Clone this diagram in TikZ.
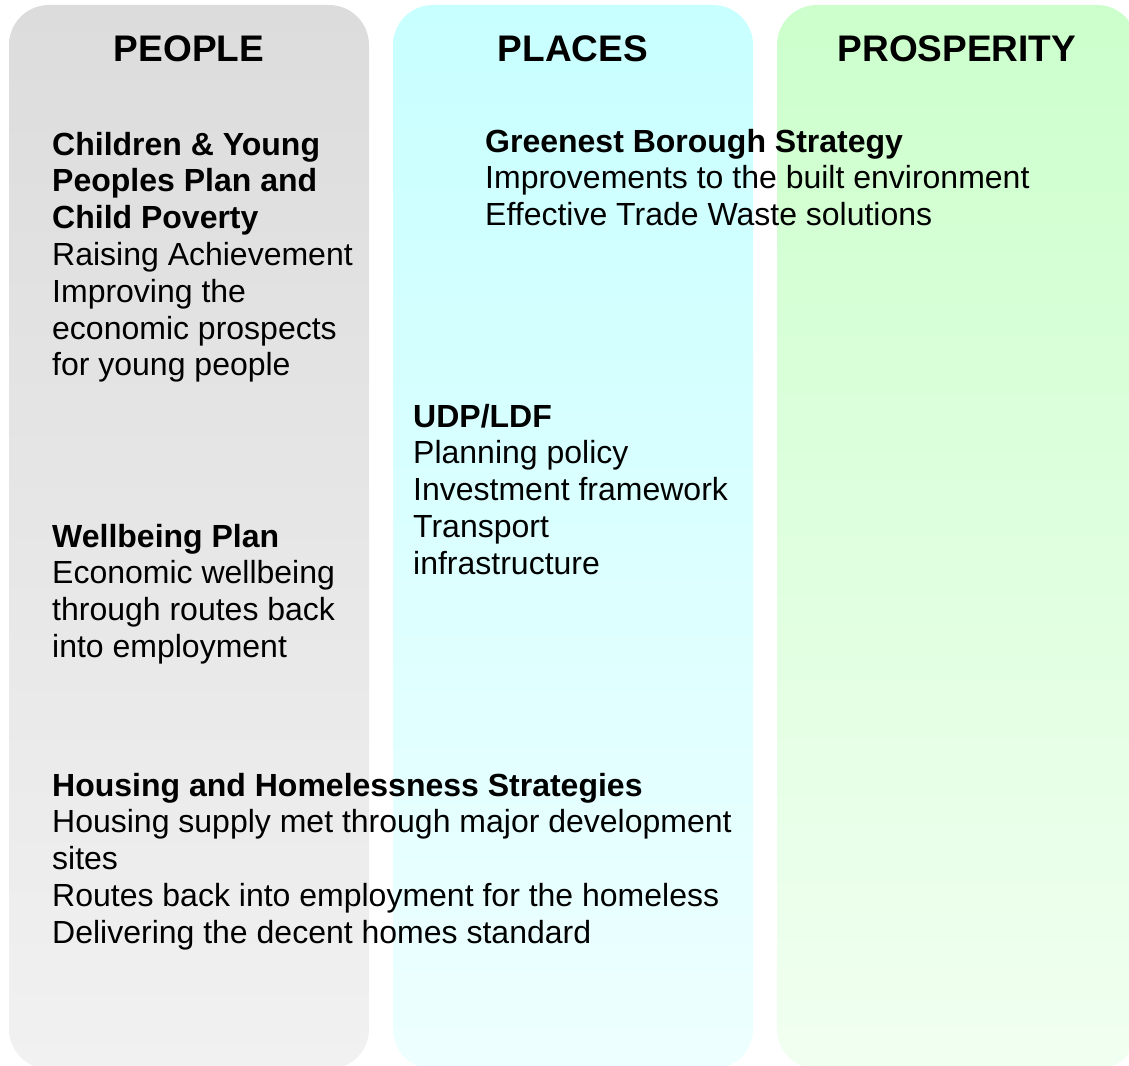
\documentclass[tikz,border=0pt]{standalone}
\usepackage{fontspec}
\setmainfont{Liberation Sans}
\usetikzlibrary{shadings}
\newcommand{\blocktext}[1]{\begin{tabular}[t]{@{}l@{}}#1\end{tabular}}
\begin{document}
\begin{tikzpicture}[x=1pt,y=-1pt,
  column/.style={rounded corners=40pt, draw=none},
  head/.style={anchor=base, inner sep=0pt, font=\fontsize{37}{42}\selectfont\bfseries},
  body/.style={anchor=base west, inner sep=0pt, font=\fontsize{32}{36.8}\selectfont},
]
\useasboundingbox (0,0) rectangle (1129,1065);
\clip (0,0) rectangle (1129,1065);
% columns
\path[column, top color={rgb,255:red,220;green,220;blue,220}, bottom color={rgb,255:red,241;green,241;blue,241}]
  (9,5) rectangle (369,1069);
\path[column, top color={rgb,255:red,200;green,255;blue,255}, bottom color={rgb,255:red,238;green,255;blue,255}]
  (393,5) rectangle (753,1069);
\path[column, top color={rgb,255:red,204;green,255;blue,204}, bottom color={rgb,255:red,241;green,255;blue,241}]
  (777,5) rectangle (1137,1069);
% headers
\node[head] (hpeople) at (189,61) {PEOPLE};
\node[head] (hplaces) at (573,61) {PLACES};
\node[head] (hprosp) at (957,61) {PROSPERITY};
% blocks
\node[body] (children) at (52,155) {\blocktext{\textbf{Children \& Young}\\\textbf{Peoples Plan and}\\\textbf{Child Poverty}\\Raising Achievement\\Improving the\\economic prospects\\for young people}};
\node[body] (green) at (485,152) {\blocktext{\textbf{Greenest Borough Strategy}\\Improvements to the built environment\\Effective Trade Waste solutions}};
\node[body] (udp) at (413,427) {\blocktext{\textbf{UDP/LDF}\\Planning policy\\Investment framework\\Transport\\infrastructure}};
\node[body] (wellbeing) at (52,547) {\blocktext{\textbf{Wellbeing Plan}\\Economic wellbeing\\through routes back\\into employment}};
\node[body] (housing) at (52,796) {\blocktext{\textbf{Housing and Homelessness Strategies}\\Housing supply met through major development\\sites\\Routes back into employment for the homeless\\Delivering the decent homes standard}};
\end{tikzpicture}
\end{document}
